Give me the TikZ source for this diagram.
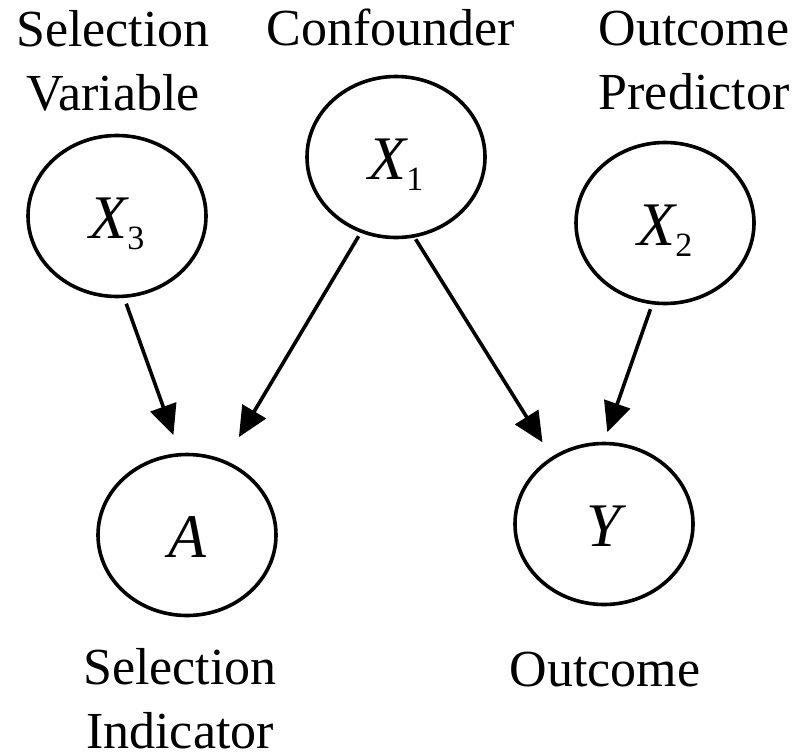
\documentclass[tikz,border=0pt]{standalone}
\usepackage{fontspec}
\setmainfont{Liberation Serif}
\usetikzlibrary{shapes.geometric,arrows.meta}
\newcommand{\subnum}[1]{\raisebox{-11pt}{\upshape\fontsize{34}{34}\selectfont #1}}
\begin{document}
\begin{tikzpicture}[x=1pt,y=-1pt,
  var/.style={draw, line width=3.6pt, ellipse, minimum width=178pt, minimum height=161pt,
    inner sep=0pt, font=\fontsize{62}{62}\selectfont\itshape, text height=44pt, text depth=0pt},
  lbl/.style={font=\fontsize{52}{64}\selectfont, align=center, inner sep=0pt},
  arr/.style={line width=3.6pt, -{Triangle[length=30pt,width=27pt]}}]
\useasboundingbox (0,0) rectangle (799,754);
% variables
\node[var] (X3) at (117,216) {X\subnum{3}};
\node[var] (X1) at (396,157) {X\subnum{1}};
\node[var] (X2) at (665,223) {X\subnum{2}};
\node[var] (A)  at (187,535) {A};
\node[var] (Y)  at (604,524) {Y};
% labels
\node[lbl] (lsv) at (113,61) {Selection\\Variable};
\node[lbl, anchor=base] (lcf) at (391,46) {Confounder};
\node[lbl] (lop) at (694,61) {Outcome\\Predictor};
\node[lbl] (lsi) at (180,699) {Selection\\Indicator};
\node[lbl, anchor=base] (lo) at (605,686) {Outcome};
% arrows
\draw[arr, shorten <=6pt, shorten >=19pt] (X3.-85) -- (A.95);
\draw[arr, shorten <=4pt, shorten >=27pt] (X1.-115) -- (A.63);
\draw[arr, shorten <=2pt, shorten >=17pt] (X1.-77) -- (Y.128);
\draw[arr, shorten <=5pt, shorten >=10pt] (X2.-99) -- (Y.90);
\end{tikzpicture}
\end{document}
